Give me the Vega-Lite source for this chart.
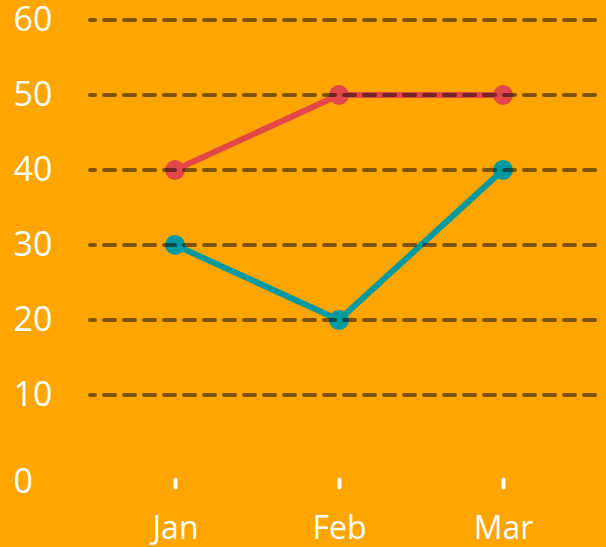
{
  "$schema": "https://vega.github.io/schema/vega-lite/v6.json",
  "width": 505,
  "height": 450,
  "autosize": {"type": "none"},
  "padding": {"left": 90, "top": 20, "right": 11, "bottom": 77},
  "background": "#FFA500",
  "config": {
    "view": {"stroke": null},
    "axis": {"labelFont": "Open Sans", "labelFontSize": 32, "labelColor": "#FFFFFF", "title": null, "domain": false, "grid": false}
  },
  "datasets": {
    "series": [
      {"month": "Jan", "series": "A", "value": 40},
      {"month": "Feb", "series": "A", "value": 50},
      {"month": "Mar", "series": "A", "value": 50},
      {"month": "Jan", "series": "B", "value": 30},
      {"month": "Feb", "series": "B", "value": 20},
      {"month": "Mar", "series": "B", "value": 40}
    ],
    "grid": [
      {"level": 10}, {"level": 20}, {"level": 30}, {"level": 40}, {"level": 50}, {"level": 60}
    ]
  },
  "layer": [
    {
      "data": {"name": "series"},
      "mark": {"type": "line", "strokeWidth": 6},
      "encoding": {
        "x": {"field": "month", "type": "ordinal", "sort": ["Jan", "Feb", "Mar"],
              "scale": {"type": "point", "range": [85, 413], "padding": 0},
              "axis": {"labelAngle": 0, "ticks": true, "tickColor": "#FFFFFF", "tickWidth": 4, "tickCap": "round", "tickSize": 8, "offset": 9, "labelPadding": 26, "labelBaseline": "top"}},
        "y": {"field": "value", "type": "quantitative", "scale": {"domain": [0, 60], "nice": false},
              "axis": {"values": [0, 10, 20, 30, 40, 50, 60], "ticks": false, "tickSize": 0, "labelAlign": "left", "labelPadding": 77, "labelFontSize": 34,
                       "labelOffset": {"condition": {"test": "datum.value === 0", "value": 12}, "value": 0}}},
        "color": {"field": "series", "type": "nominal", "scale": {"domain": ["A", "B"], "range": ["#E2474A", "#00999F"]}, "legend": null}
      }
    },
    {
      "data": {"name": "series"},
      "mark": {"type": "point", "filled": true, "size": 400, "opacity": 1},
      "encoding": {
        "x": {"field": "month", "type": "ordinal", "sort": ["Jan", "Feb", "Mar"]},
        "y": {"field": "value", "type": "quantitative"},
        "color": {"field": "series", "type": "nominal", "legend": null}
      }
    },
    {
      "data": {"name": "grid"},
      "mark": {"type": "rule", "stroke": "#000000", "strokeOpacity": 0.5, "strokeWidth": 4, "strokeDash": [11, 9], "strokeCap": "round"},
      "encoding": {
        "y": {"field": "level", "type": "quantitative"}
      }
    }
  ]
}
